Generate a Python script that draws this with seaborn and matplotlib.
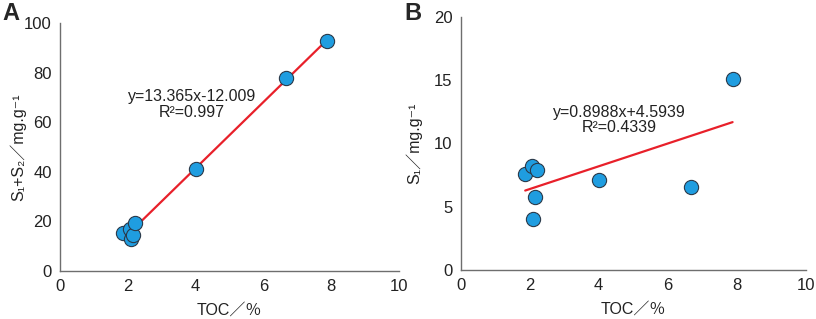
import numpy as np
import matplotlib.pyplot as plt
import pandas as pd
import seaborn as sns

# 读图得到的数据
toc = [1.87, 2.08, 2.09, 2.16, 2.22, 4.01, 6.67, 7.88]
s1_s2 = [15.1, 17.1, 12.7, 14.3, 19.4, 41.2, 77.8, 93.0]
s1 = [7.55, 8.2, 4.0, 5.74, 7.87, 7.1, 6.53, 15.1]

# 图中给出的拟合方程
fit_a = (13.365, -12.009)
fit_b = (0.8988, 4.5939)
eq_a = ["y=13.365x-12.009", "R²=0.997"]
eq_b = ["y=0.8988x+4.5939", "R²=0.4339"]

sns.set_theme(style="white")
fonts = ['Liberation Sans', 'DejaVu Sans', 'Noto Sans CJK SC']
plt.rcParams['font.family'] = fonts

df = pd.DataFrame({"TOC": toc, "S1S2": s1_s2, "S1": s1})

fig = plt.figure(figsize=(8.16, 3.19), dpi=100)
ax1 = fig.add_axes([0.0735, 0.151, 0.4155, 0.776])
ax2 = fig.add_axes([0.5646, 0.1536, 0.4228, 0.794])

grey = "#6e6e6e"


def draw(ax, ycol, fit, eq, ymax, ystep, ylabel, eq_xy, ylab_x):
    xs = np.array([df["TOC"].min(), df["TOC"].max()])
    line = pd.DataFrame({"x": xs, "y": fit[0] * xs + fit[1]})
    sns.lineplot(data=line, x="x", y="y", ax=ax, color="#e8202a", lw=1.6, zorder=2)
    sns.scatterplot(data=df, x="TOC", y=ycol, ax=ax, s=105, color="#1f9de0",
                    edgecolor="#2b3a4a", linewidth=0.8, zorder=3)
    ax.set_xlim(0, 10)
    ax.set_ylim(0, ymax)
    ax.set_xticks(range(0, 11, 2))
    ax.set_yticks(np.arange(0, ymax + 1, ystep))
    for sp in ["top", "right"]:
        ax.spines[sp].set_visible(False)
    for sp in ["left", "bottom"]:
        ax.spines[sp].set_color(grey)
        ax.spines[sp].set_linewidth(1.0)
    ax.tick_params(direction="in", length=4, width=1, color=grey,
                   labelsize=12, labelcolor="#222222", pad=6)
    ax.set_xlabel("TOC／％", fontsize=11.5, color="#222222", labelpad=6)
    ax.set_ylabel(ylabel, fontsize=11.5, color="#222222")
    ax.yaxis.set_label_coords(ylab_x, 0.5)
    ax.text(eq_xy[0], eq_xy[1], eq[0] + "\n" + eq[1], ha="center", va="center",
            fontsize=11.5, color="#222222", linespacing=1.05)


draw(ax1, "S1S2", fit_a, eq_a, 100, 20, "S₁+S₂／mg.g⁻¹", (3.9, 67.3), -0.1)
draw(ax2, "S1", fit_b, eq_b, 20, 5, "S₁／mg.g⁻¹", (4.59, 11.85), -0.11)

fig.text(0.003, 0.995, "A", fontsize=17, fontweight="bold", va="top", ha="left")
fig.text(0.496, 0.995, "B", fontsize=17, fontweight="bold", va="top", ha="left")

fig.savefig("out.png", dpi=100)
